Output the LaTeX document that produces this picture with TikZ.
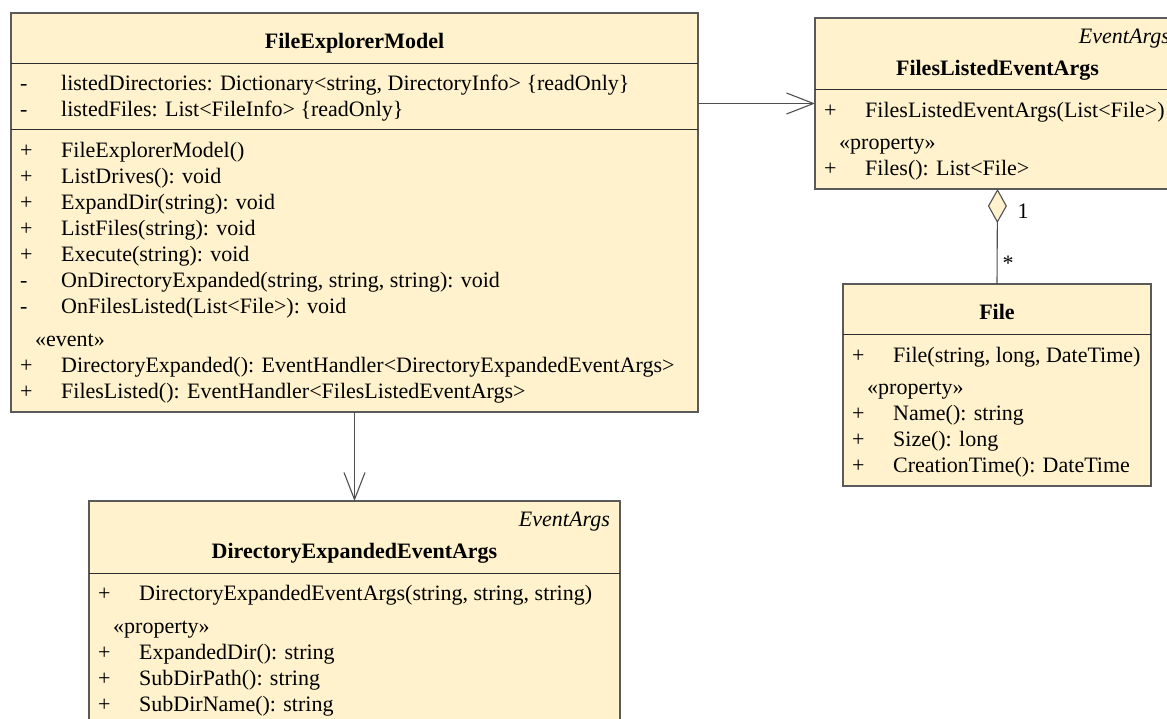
\documentclass[tikz,border=0pt]{standalone}
\usepackage{fontspec}
\setmainfont{Liberation Serif}
\usetikzlibrary{arrows.meta}
\definecolor{umlfill}{RGB}{255,242,204}
\definecolor{umlborder}{RGB}{90,90,90}
\definecolor{umlsep}{RGB}{45,45,45}
\definecolor{umlline}{RGB}{80,80,80}
\begin{document}
\begin{tikzpicture}[x=1pt,y=-1pt,
  umlbox/.style={draw=umlborder,fill=umlfill,line width=1.2pt,rectangle,anchor=north west,inner sep=0pt,outer sep=0pt},
  sepline/.style={draw=umlsep,line width=1pt},
  txt/.style={anchor=base west,inner sep=0pt,font=\fontsize{22}{26}\selectfont},
  ttl/.style={anchor=base,inner sep=0pt,font=\fontsize{22}{26}\selectfont\bfseries},
  sup/.style={anchor=base east,inner sep=0pt,font=\fontsize{22}{26}\selectfont\itshape},
  assoc/.style={draw=umlline,line width=1.1pt,-{Straight Barb[length=27pt,width=21pt,line width=1.1pt]}},
  aggr/.style={draw=umlline,line width=1.1pt,-{Diamond[length=34pt,width=19pt,fill=umlfill,line width=1.1pt]}},
  mult/.style={anchor=base,inner sep=0pt,font=\fontsize{22}{26}\selectfont}
]
\useasboundingbox (0,0) rectangle (1167,718);
\fill[white] (0,0) rectangle (1167,718);
\clip (0,0) rectangle (1167,718);

% ---------- FileExplorerModel ----------
\node[umlbox,minimum width=687pt,minimum height=399pt] (fem) at (11,13) {};
\draw[sepline] (fem.west |- 0,63) -- (fem.east |- 0,63);
\draw[sepline] (fem.west |- 0,129) -- (fem.east |- 0,129);
\node[ttl] (femt) at (354.5,48) {FileExplorerModel};
\node[txt] (femv1) at (20,90) {-};
\node[txt] (fema1) at (61,90) {listedDirectories: Dictionary<string, DirectoryInfo> \{readOnly\}};
\node[txt] (femv2) at (20,116) {-};
\node[txt] (fema2) at (61,116) {listedFiles: List<FileInfo> \{readOnly\}};
\node[txt] (femv3) at (20,157) {+};
\node[txt] (femm1) at (61,157) {FileExplorerModel()};
\node[txt] (femv4) at (20,183) {+};
\node[txt] (femm2) at (61,183) {ListDrives(): void};
\node[txt] (femv5) at (20,209) {+};
\node[txt] (femm3) at (61,209) {ExpandDir(string): void};
\node[txt] (femv6) at (20,235) {+};
\node[txt] (femm4) at (61,235) {ListFiles(string): void};
\node[txt] (femv7) at (20,261) {+};
\node[txt] (femm5) at (61,261) {Execute(string): void};
\node[txt] (femv8) at (20,287) {-};
\node[txt] (femm6) at (61,287) {OnDirectoryExpanded(string, string, string): void};
\node[txt] (femv9) at (20,313) {-};
\node[txt] (femm7) at (61,313) {OnFilesListed(List<File>): void};
\node[txt] (fems) at (35,346) {«event»};
\node[txt] (femv10) at (20,372) {+};
\node[txt] (feme1) at (61,372) {DirectoryExpanded(): EventHandler<DirectoryExpandedEventArgs>};
\node[txt] (femv11) at (20,398) {+};
\node[txt] (feme2) at (61,398) {FilesListed(): EventHandler<FilesListedEventArgs>};

% ---------- FilesListedEventArgs ----------
\node[umlbox,minimum width=365pt,minimum height=171pt] (flea) at (815,18) {};
\draw[sepline] (flea.west |- 0,89) -- (flea.east |- 0,89);
\node[sup] (fleas) at (1170,43) {EventArgs};
\node[ttl] (fleat) at (997.5,75) {FilesListedEventArgs};
\node[txt] (fleav1) at (824,117) {+};
\node[txt] (flea1) at (865,117) {FilesListedEventArgs(List<File>)};
\node[txt] (fleast) at (839,149) {«property»};
\node[txt] (fleav2) at (824,175) {+};
\node[txt] (flea2) at (865,175) {Files(): List<File>};

% ---------- File ----------
\node[umlbox,minimum width=308pt,minimum height=202pt] (file) at (843,284) {};
\draw[sepline] (file.west |- 0,334) -- (file.east |- 0,334);
\node[ttl] (filet) at (997,319) {File};
\node[txt] (filev1) at (852,362) {+};
\node[txt] (file1) at (893,362) {File(string, long, DateTime)};
\node[txt] (filest) at (867,394) {«property»};
\node[txt] (filev2) at (852,420) {+};
\node[txt] (file2) at (893,420) {Name(): string};
\node[txt] (filev3) at (852,446) {+};
\node[txt] (file3) at (893,446) {Size(): long};
\node[txt] (filev4) at (852,472) {+};
\node[txt] (file4) at (893,472) {CreationTime(): DateTime};

% ---------- DirectoryExpandedEventArgs ----------
\node[umlbox,minimum width=531pt,minimum height=260pt] (deea) at (89,501) {};
\draw[sepline] (deea.west |- 0,573) -- (deea.east |- 0,573);
\node[sup] (deeas) at (610,526) {EventArgs};
\node[ttl] (deeat) at (354.5,558) {DirectoryExpandedEventArgs};
\node[txt] (deeav1) at (98,600) {+};
\node[txt] (deea1) at (139,600) {DirectoryExpandedEventArgs(string, string, string)};
\node[txt] (deeast) at (113,633) {«property»};
\node[txt] (deeav2) at (98,659) {+};
\node[txt] (deea2) at (139,659) {ExpandedDir(): string};
\node[txt] (deeav3) at (98,685) {+};
\node[txt] (deea3) at (139,685) {SubDirPath(): string};
\node[txt] (deeav4) at (98,711) {+};
\node[txt] (deea4) at (139,711) {SubDirName(): string};

% ---------- connectors ----------
\draw[assoc] (fem.east |- flea.west) -- (flea.west);
\draw[assoc] (fem.south) -- (deea.north);
\draw[aggr] (file.north) -- (flea.south);
\node[mult] (m1) at (1023,218) {1};
\node[mult] (m2) at (1008,270) {*};
\end{tikzpicture}
\end{document}
